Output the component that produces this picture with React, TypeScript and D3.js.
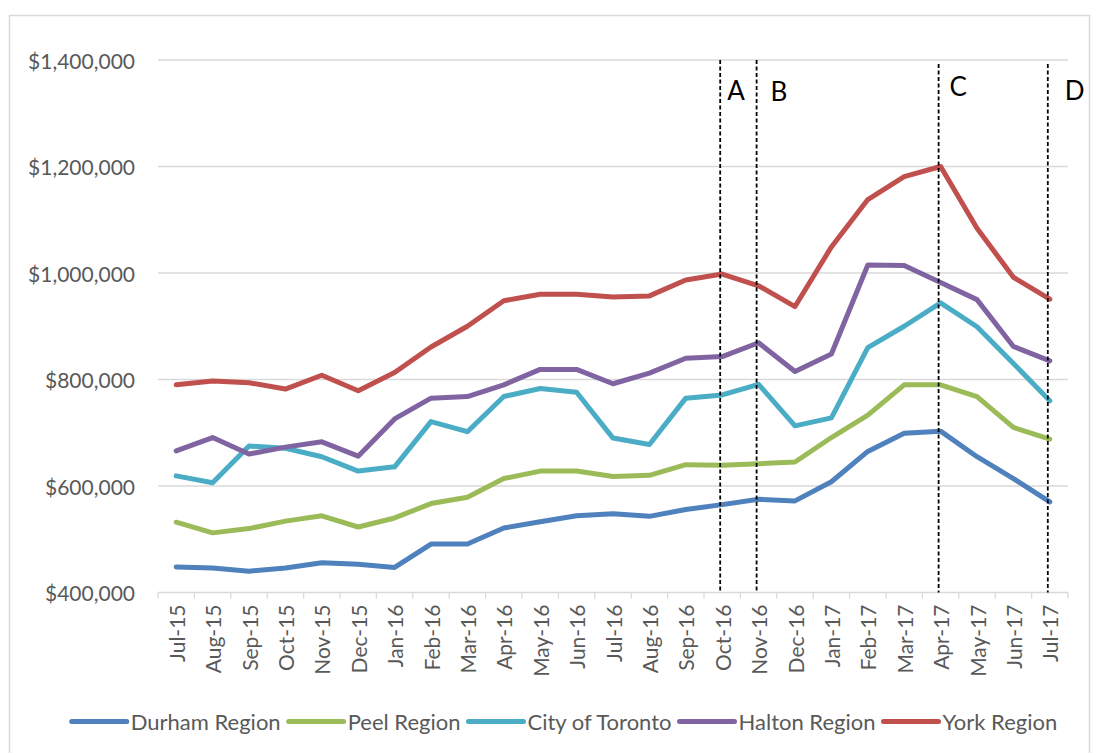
import React, { useEffect, useRef } from "react";
import * as d3 from "d3";

// Monthly average prices by region, Jul 2015 – Jul 2017
const months = [
  "Jul-15", "Aug-15", "Sep-15", "Oct-15", "Nov-15", "Dec-15", "Jan-16", "Feb-16", "Mar-16",
  "Apr-16", "May-16", "Jun-16", "Jul-16", "Aug-16", "Sep-16", "Oct-16", "Nov-16", "Dec-16",
  "Jan-17", "Feb-17", "Mar-17", "Apr-17", "May-17", "Jun-17", "Jul-17",
];

const durham = [448000, 446000, 440000, 446000, 456000, 453000, 447000, 491000, 491000, 521000, 533000, 544000, 548000, 543000, 556000, 565000, 575000, 572000, 608000, 665000, 699000, 703000, 655000, 614000, 570000];
const peel = [532000, 512000, 520000, 534000, 544000, 523000, 540000, 567000, 579000, 614000, 628000, 628000, 618000, 620000, 640000, 639000, 642000, 645000, 691000, 733000, 790000, 790000, 768000, 710000, 688000];
const toronto = [619000, 606000, 675000, 671000, 655000, 628000, 636000, 721000, 702000, 768000, 783000, 776000, 690000, 678000, 765000, 771000, 791000, 713000, 728000, 860000, 900000, 944000, 899000, 830000, 760000];
const halton = [666000, 691000, 660000, 673000, 683000, 656000, 726000, 765000, 768000, 790000, 819000, 819000, 792000, 812000, 840000, 843000, 869000, 815000, 848000, 1015000, 1014000, 982000, 950000, 862000, 835000];
const york = [790000, 797000, 794000, 782000, 808000, 779000, 813000, 861000, 900000, 948000, 960000, 960000, 955000, 957000, 987000, 998000, 976000, 937000, 1049000, 1138000, 1181000, 1200000, 1084000, 992000, 951000];

const seriesNames = ["Durham Region", "Peel Region", "City of Toronto", "Halton Region", "York Region"];
const seriesValues = [durham, peel, toronto, halton, york];
const seriesColors = ["#4F81BD", "#9BBB59", "#4BACC6", "#8064A2", "#C0504D"];

const yTicks = [400000, 600000, 800000, 1000000, 1200000, 1400000];

// Event markers
const markerMonths = ["Oct-16", "Nov-16", "Apr-17", "Jul-17"];
const markerLabels = ["A", "B", "C", "D"];

const W = 1099;
const H = 753;
const FONT = "Lato, 'Open Sans', sans-serif";

export default function App() {
  const ref = useRef<SVGSVGElement | null>(null);

  useEffect(() => {
    const svg = d3.select(ref.current);
    svg.selectAll("*").remove();

    const left = 158, right = 1068, top = 60, bottom = 592.5;

    const x = d3.scaleBand<string>().domain(months).range([left, right]).padding(0);
    const y = d3.scaleLinear().domain([400000, 1400000]).range([bottom, top]);
    const cx = (m: string) => (x(m) as number) + x.bandwidth() / 2;

    // chart frame
    svg.append("rect")
      .attr("x", 9.5).attr("y", 15.5)
      .attr("width", 1080).attr("height", 760)
      .attr("fill", "#fff").attr("stroke", "#D9D9D9").attr("stroke-width", 1.5);

    // gridlines
    svg.append("g").selectAll("line").data(yTicks.slice(1)).join("line")
      .attr("x1", left).attr("x2", right)
      .attr("y1", (d) => y(d)).attr("y2", (d) => y(d))
      .attr("stroke", "#D9D9D9").attr("stroke-width", 1.3);

    // y labels
    const fmt = d3.format(",.0f");
    svg.append("g").selectAll("text").data(yTicks).join("text")
      .attr("x", 135).attr("y", (d) => y(d))
      .attr("text-anchor", "end").attr("dominant-baseline", "central")
      .attr("font-family", FONT).attr("font-size", 21).attr("fill", "#595959")
      .text((d) => "$" + fmt(d));

    // x axis line and ticks
    const ax = svg.append("g");
    ax.append("line")
      .attr("x1", left).attr("x2", right).attr("y1", bottom).attr("y2", bottom)
      .attr("stroke", "#D9D9D9").attr("stroke-width", 1.3);
    const boundaries = months.map((m) => x(m) as number).concat([right]);
    ax.selectAll("line.tick").data(boundaries).join("line")
      .attr("class", "tick")
      .attr("x1", (d) => d).attr("x2", (d) => d)
      .attr("y1", bottom).attr("y2", bottom + 6)
      .attr("stroke", "#D9D9D9").attr("stroke-width", 1.3);

    // x labels, rotated
    svg.append("g").selectAll("text").data(months).join("text")
      .attr("transform", (m) => `translate(${cx(m)},${bottom + 12}) rotate(-90)`)
      .attr("text-anchor", "end").attr("dominant-baseline", "central")
      .attr("font-family", FONT).attr("font-size", 21).attr("fill", "#595959")
      .text((m) => m);

    // series lines
    const line = d3.line<number>()
      .x((_, i) => cx(months[i]))
      .y((v) => y(v));
    const lines = svg.append("g");
    seriesValues.forEach((vals, i) => {
      lines.append("path")
        .attr("d", line(vals) as string)
        .attr("fill", "none")
        .attr("stroke", seriesColors[i])
        .attr("stroke-width", 5)
        .attr("stroke-linejoin", "round")
        .attr("stroke-linecap", "round");
    });

    // event markers
    const markerTop = [top, top, top + 4, top + 4];
    const labelDx = [7, 14, 11, 17];
    const labelY = [100, 101, 96, 100];
    const mk = svg.append("g");
    markerMonths.forEach((m, i) => {
      const mx = cx(m) - 2;
      mk.append("line")
        .attr("x1", mx).attr("x2", mx)
        .attr("y1", markerTop[i]).attr("y2", bottom)
        .attr("stroke", "#000").attr("stroke-width", 1.8)
        .attr("stroke-dasharray", "4 2.5");
      mk.append("text")
        .attr("x", mx + labelDx[i]).attr("y", labelY[i])
        .attr("font-family", FONT).attr("font-size", 26).attr("fill", "#000")
        .text(markerLabels[i]);
    });

    // legend, laid out left to right and centred
    const lg = svg.append("g");
    const swatch = 55, gapText = 4, gapItem = 8;
    const items = seriesNames.map((name, i) => {
      const g = lg.append("g");
      g.append("line")
        .attr("x1", 0).attr("x2", swatch).attr("y1", 0).attr("y2", 0)
        .attr("stroke", seriesColors[i]).attr("stroke-width", 5)
        .attr("stroke-linecap", "round");
      const t = g.append("text")
        .attr("x", swatch + gapText).attr("y", 0)
        .attr("dominant-baseline", "central")
        .attr("font-family", FONT).attr("font-size", 22).attr("fill", "#595959")
        .text(name);
      const tw = (t.node() as SVGTextElement).getComputedTextLength();
      return { g, width: swatch + gapText + tw };
    });
    const total = d3.sum(items, (d) => d.width) + gapItem * (items.length - 1);
    let cur = 564.5 - total / 2;
    items.forEach((it) => {
      it.g.attr("transform", `translate(${cur},721.5)`);
      cur += it.width + gapItem;
    });
  }, []);

  return (
    <svg
      ref={ref}
      width={W}
      height={H}
      style={{ position: "absolute", left: 0, top: 0, background: "#fff" }}
    />
  );
}
